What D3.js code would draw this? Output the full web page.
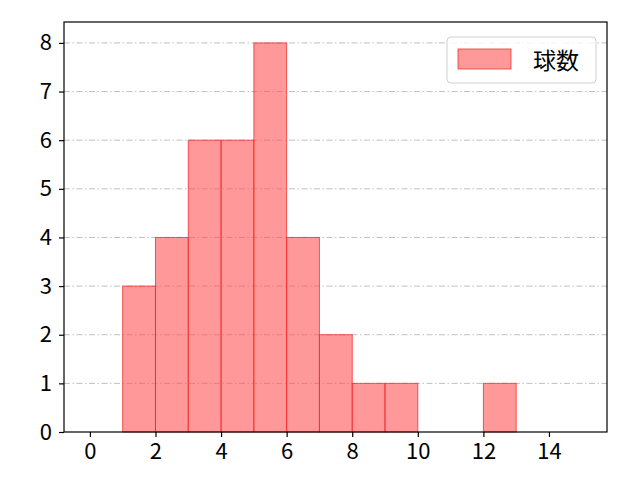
<!DOCTYPE html>
<html lang="ja">
<head>
  <meta charset="UTF-8">
  <title>球数 histogram</title>
  <script src="https://d3js.org/d3.v7.min.js"></script>
  <style>
    body { margin: 0; background: #fff; font-family: "Noto Sans CJK JP", "DejaVu Sans", sans-serif; }
    svg text { fill: #000; }
  </style>
</head>
<body>
<div id="chart"></div>
<script>
const binStarts = [1, 2, 3, 4, 5, 6, 7, 8, 9, 10, 11, 12];
const binCounts = [3, 4, 6, 6, 8, 4, 2, 1, 1, 0, 0, 1];
const binWidth = 1;
const xTicks = [0, 2, 4, 6, 8, 10, 12, 14];
const yTicks = [0, 1, 2, 3, 4, 5, 6, 7, 8];
const seriesName = "球数";

const width = 640, height = 480;
const margin = { top: 22, right: 33, bottom: 48, left: 64 };

const svg = d3.select("#chart")
  .append("svg")
  .attr("width", width)
  .attr("height", height);

const x = d3.scaleLinear()
  .domain([-0.79, 15.77])
  .range([margin.left, width - margin.right]);

const y = d3.scaleLinear()
  .domain([0, 8.43])
  .range([height - margin.bottom, margin.top]);

// horizontal grid
svg.append("g")
  .selectAll("line")
  .data(yTicks.slice(1))
  .enter()
  .append("line")
  .attr("x1", margin.left)
  .attr("x2", width - margin.right)
  .attr("y1", d => y(d))
  .attr("y2", d => y(d))
  .attr("stroke", "#b0b0b0")
  .attr("stroke-width", 0.8)
  .attr("stroke-dasharray", "6,2.5,1.5,2.5");

// bars
svg.append("g")
  .selectAll("rect")
  .data(binStarts.map((s, i) => ({ s, c: binCounts[i] })).filter(d => d.c > 0))
  .enter()
  .append("rect")
  .attr("x", d => x(d.s))
  .attr("y", d => y(d.c))
  .attr("width", d => x(d.s + binWidth) - x(d.s))
  .attr("height", d => y(0) - y(d.c))
  .attr("fill", "rgba(255,80,80,0.58)")
  .attr("stroke", "rgba(240,40,40,0.75)")
  .attr("stroke-width", 1);

// axes
const xAxis = svg.append("g")
  .attr("transform", `translate(0,${height - margin.bottom})`)
  .call(d3.axisBottom(x).tickValues(xTicks).tickSize(5).tickPadding(6));

const yAxis = svg.append("g")
  .attr("transform", `translate(${margin.left},0)`)
  .call(d3.axisLeft(y).tickValues(yTicks).tickSize(5).tickPadding(7));

[xAxis, yAxis].forEach(a => {
  a.attr("font-family", null).attr("font-size", null);
  a.select(".domain").remove();
  a.selectAll("line").attr("stroke", "#000").attr("stroke-width", 1.2);
  a.selectAll("text")
    .style("font-size", "22px")
    .style("font-family", "'Noto Sans CJK JP', sans-serif");
});

// frame
svg.append("rect")
  .attr("x", margin.left)
  .attr("y", margin.top)
  .attr("width", width - margin.left - margin.right)
  .attr("height", height - margin.top - margin.bottom)
  .attr("fill", "none")
  .attr("stroke", "#000")
  .attr("stroke-width", 1.2);

// legend
const lg = svg.append("g").attr("transform", "translate(447,37)");
lg.append("rect")
  .attr("width", 149)
  .attr("height", 46)
  .attr("rx", 4)
  .attr("fill", "rgba(255,255,255,0.8)")
  .attr("stroke", "#d0d0d0");
lg.append("rect")
  .attr("x", 11)
  .attr("y", 12)
  .attr("width", 53)
  .attr("height", 20)
  .attr("fill", "rgba(255,80,80,0.58)")
  .attr("stroke", "rgba(240,40,40,0.75)");
lg.append("text")
  .attr("x", 86)
  .attr("y", 22)
  .attr("dominant-baseline", "central")
  .style("font-size", "23px")
  .text(seriesName);
</script>
</body>
</html>
